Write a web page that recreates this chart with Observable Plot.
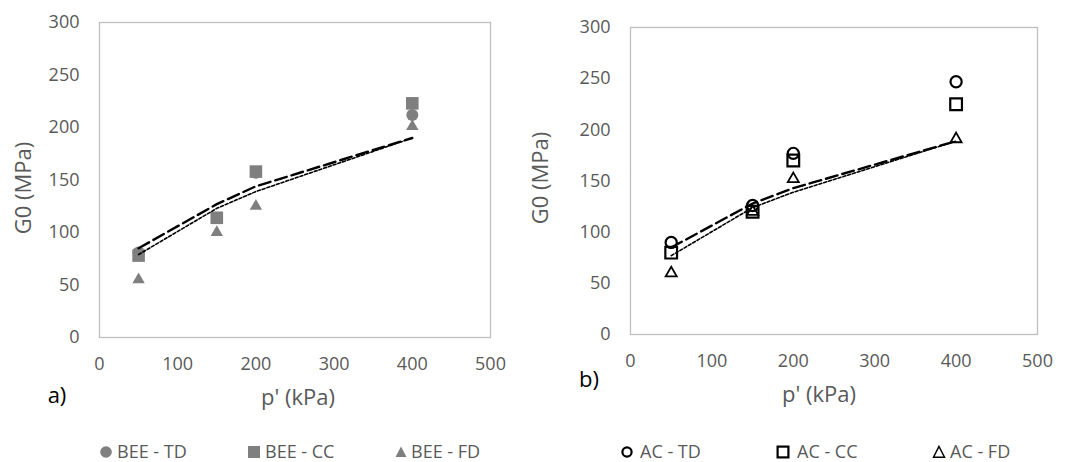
<!DOCTYPE html>
<html>
<head>
<meta charset="utf-8">
<script src="https://cdn.jsdelivr.net/npm/d3@7"></script>
<script src="https://cdn.jsdelivr.net/npm/@observablehq/plot@0.6"></script>
<style>
  body { margin: 0; background: #fff; font-family: "Open Sans", sans-serif; }
  #wrap { position: relative; width: 1068px; height: 462px; overflow: hidden; background: #fff; }
  .panel { position: absolute; top: 0; }
  .lbl { position: absolute; transform: translate(-50%, -50%); white-space: nowrap; line-height: 1; }
  .ytitle { position: absolute; transform: translate(-50%, -50%) rotate(-90deg); white-space: nowrap; color: #595959; font-size: 22px; line-height: 1; }
  .xtitle { color: #595959; font-size: 22px; }
  .tag { color: #000; font-size: 22px; }
  .legtxt { position: absolute; transform: translateY(-50%); white-space: nowrap; font-size: 18px; color: #595959; line-height: 1; }
  .legsym { position: absolute; }
</style>
</head>
<body>
<div id="wrap"></div>
<script>
// ---- data ----
const pressure = [50, 150, 200, 400];            // p' (kPa)
const xTicks = [0, 100, 200, 300, 400, 500];
const yTicks = [0, 50, 100, 150, 200, 250, 300];

// panel a) bender element tests
const beeTD = [81, 114, 157, 212];
const beeCC = [78, 114, 158, 223];
const beeFD = [55, 100, 125, 201];
const beeFitLong = [85, 127, 144, 190];
const beeFitShort = [79, 123, 139, 190];

// panel b) accelerometer tests
const acTD = [90, 126, 177, 247];
const acCC = [80, 120, 170, 225];
const acFD = [60, 120, 152, 191];
const acFitLong = [85, 128, 143, 189];
const acFitShort = [77, 124, 139, 189];

const legendA = ["BEE - TD", "BEE - CC", "BEE - FD"];
const legendB = ["AC - TD", "AC - CC", "AC - FD"];

const rows = ys => pressure.map((p, i) => ({p, g: ys[i]}));
const grey = "#7f7f7f";
const axisColor = "#595959";

function panel({ml, mr, mt, mb, marks}) {
  return Plot.plot({
    width: 534, height: 415,
    marginLeft: ml, marginRight: mr, marginTop: mt, marginBottom: mb,
    style: {fontFamily: "'Open Sans', sans-serif", fontSize: "18px", color: axisColor, background: "transparent", overflow: "visible"},
    x: {domain: [0, 500], ticks: xTicks, tickSize: 0, tickPadding: 20, label: null},
    y: {domain: [0, 300], ticks: yTicks, tickSize: 0, tickPadding: 20, label: null},
    marks: [Plot.frame({stroke: "#bfbfbf", strokeWidth: 1.3}), ...marks]
  });
}

const longDash = {x: "p", y: "g", stroke: "black", strokeWidth: 2.4, strokeDasharray: "12,5", curve: "linear"};
const shortDash = {x: "p", y: "g", stroke: "black", strokeWidth: 1.6, strokeDasharray: "3,2", curve: "linear"};

const plotA = panel({
  ml: 99, mr: 44, mt: 22, mb: 78,
  marks: [
    Plot.dot(rows(beeFD), {x: "p", y: "g", symbol: "triangle", r: 4.6, fill: grey}),
    Plot.dot(rows(beeCC), {x: "p", y: "g", symbol: "square", r: 7.1, fill: grey}),
    Plot.dot(rows(beeTD), {x: "p", y: "g", symbol: "circle", r: 6, fill: grey}),
    Plot.line(rows(beeFitShort), shortDash),
    Plot.line(rows(beeFitLong), longDash)
  ]
});

const plotB = panel({
  ml: 96, mr: 31, mt: 27, mb: 81,
  marks: [
    Plot.dot(rows(acFD), {x: "p", y: "g", symbol: "triangle", r: 4.1, fill: "none", stroke: "black", strokeWidth: 1.8}),
    Plot.dot(rows(acCC), {x: "p", y: "g", symbol: "square", r: 6.6, fill: "none", stroke: "black", strokeWidth: 2.2}),
    Plot.dot(rows(acTD), {x: "p", y: "g", symbol: "circle", r: 5.6, fill: "none", stroke: "black", strokeWidth: 2.2}),
    Plot.line(rows(acFitShort), shortDash),
    Plot.line(rows(acFitLong), longDash)
  ]
});

const wrap = document.getElementById("wrap");
function place(node, left) {
  const d = document.createElement("div");
  d.className = "panel";
  d.style.left = left + "px";
  d.appendChild(node);
  wrap.appendChild(d);
}
place(plotA, 0);
place(plotB, 534);

function label(text, cls, x, y) {
  const d = document.createElement("div");
  d.className = cls;
  d.textContent = text;
  d.style.left = x + "px";
  d.style.top = y + "px";
  wrap.appendChild(d);
}
label("G0 (MPa)", "ytitle", 22, 188);
label("G0 (MPa)", "ytitle", 539, 178);
label("p' (kPa)", "lbl xtitle", 298, 396);
label("p' (kPa)", "lbl xtitle", 819, 393);
label("a)", "lbl tag", 57, 394);
label("b)", "lbl tag", 589, 378);

// legends
const symSvg = {
  fcircle: `<circle cx="8" cy="8" r="5.8" fill="${grey}"/>`,
  fsquare: `<rect x="2" y="2" width="12" height="12" fill="${grey}"/>`,
  ftri: `<path d="M8 2.5 L13.5 13 L2.5 13 Z" fill="${grey}"/>`,
  ocircle: `<circle cx="8" cy="8" r="4.6" fill="none" stroke="black" stroke-width="2.2"/>`,
  osquare: `<rect x="2.6" y="2.6" width="10.8" height="10.8" fill="none" stroke="black" stroke-width="2.2"/>`,
  otri: `<path d="M8 2.5 L13.5 13.2 L2.5 13.2 Z" fill="none" stroke="black" stroke-width="1.5"/>`
};
function legItem(sym, text, cx, tx, cy) {
  const s = document.createElement("div");
  s.className = "legsym";
  s.style.left = (cx - 8) + "px";
  s.style.top = (cy - 8) + "px";
  s.innerHTML = `<svg width="16" height="16" viewBox="0 0 16 16">${symSvg[sym]}</svg>`;
  wrap.appendChild(s);
  const t = document.createElement("div");
  t.className = "legtxt";
  t.textContent = text;
  t.style.left = tx + "px";
  t.style.top = cy + "px";
  wrap.appendChild(t);
}
const ly = 451;
legItem("fcircle", legendA[0], 106, 117, ly);
legItem("fsquare", legendA[1], 254, 265, ly);
legItem("ftri", legendA[2], 401, 411, ly);
legItem("ocircle", legendB[0], 627, 640, ly);
legItem("osquare", legendB[1], 783, 797, ly);
legItem("otri", legendB[2], 939, 950, ly);
</script>
</body>
</html>
